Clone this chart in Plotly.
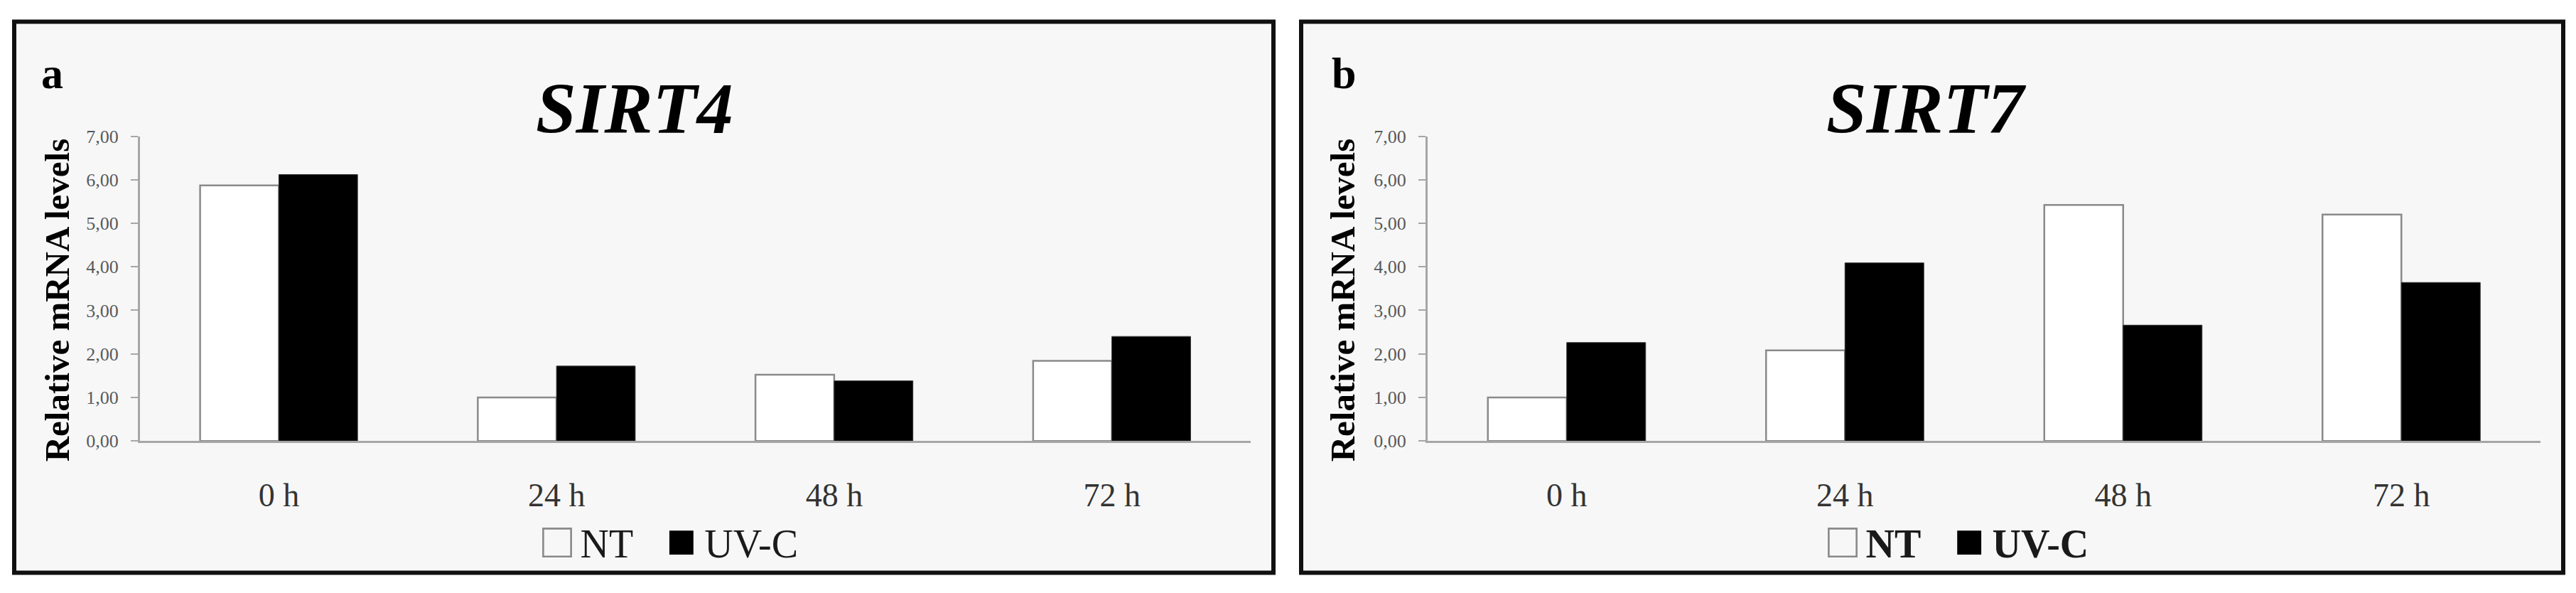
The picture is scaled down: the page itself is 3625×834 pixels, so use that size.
import plotly.graph_objects as go

W, H = 3625, 834

categories = ["0 h", "24 h", "48 h", "72 h"]
sirt4_nt = [5.87, 1.00, 1.52, 1.84]
sirt4_uvc = [6.12, 1.72, 1.38, 2.40]
sirt7_nt = [1.00, 2.08, 5.42, 5.20]
sirt7_uvc = [2.26, 4.09, 2.66, 3.64]
ytick_vals = [0, 1, 2, 3, 4, 5, 6, 7]
ytick_text = ["0,00", "1,00", "2,00", "3,00", "4,00", "5,00", "6,00", "7,00"]
series_names = ["NT", "UV-C"]
panel_titles = ["SIRT4", "SIRT7"]
panel_letters = ["a", "b"]
y_title = "Relative mRNA levels"

SERIF = "Liberation Serif, Times New Roman, serif"


def px(x):
    return x / W


def py(y):
    return 1 - y / H


fig = go.Figure()

panels = [
    dict(nt=sirt4_nt, uvc=sirt4_uvc, xa="x", ya="y"),
    dict(nt=sirt7_nt, uvc=sirt7_uvc, xa="x2", ya="y2"),
]
for p in panels:
    fig.add_trace(go.Bar(
        x=categories, y=p["nt"], name=series_names[0], xaxis=p["xa"], yaxis=p["ya"],
        marker=dict(color="white", line=dict(color="#8a8a8a", width=2.5)),
        showlegend=False,
    ))
    fig.add_trace(go.Bar(
        x=categories, y=p["uvc"], name=series_names[1], xaxis=p["xa"], yaxis=p["ya"],
        marker=dict(color="black", line=dict(color="#333333", width=1)),
        showlegend=False,
    ))

# panel frames
frames = [(20, 1792), (1831, 3607)]
for (x0, x1) in frames:
    fig.add_shape(type="rect", xref="paper", yref="paper",
                  x0=px(x0), x1=px(x1), y0=py(820), y1=py(17),
                  fillcolor="#f7f7f7", line=dict(color="#111111", width=6),
                  layer="below")

x_domains = [[px(197), px(1760)], [px(2009), px(3575)]]
y_domain = [py(628), py(184)]

xaxis_common = dict(
    type="category", showline=True, linecolor="#a6a6a6", linewidth=3,
    ticks="", showgrid=False, zeroline=False,
    tickfont=dict(family=SERIF, size=46, color="#333333"),
    ticklabelstandoff=34,
)
yaxis_common = dict(
    range=[0, 7], showline=True, linecolor="#a6a6a6", linewidth=3,
    ticks="outside", ticklen=10, tickwidth=2, tickcolor="#a6a6a6",
    tickvals=ytick_vals, ticktext=ytick_text,
    showgrid=False, zeroline=False,
    tickfont=dict(family=SERIF, size=26, color="#595959"),
    ticklabelstandoff=12,
)

fig.update_layout(
    width=W, height=H,
    margin=dict(l=0, r=0, t=0, b=0),
    paper_bgcolor="white",
    plot_bgcolor="rgba(0,0,0,0)",
    barmode="group", bargap=0.433, bargroupgap=0,
    xaxis=dict(domain=x_domains[0], anchor="y", **xaxis_common),
    yaxis=dict(domain=y_domain, anchor="x", **yaxis_common),
    xaxis2=dict(domain=x_domains[1], anchor="y2", **xaxis_common),
    yaxis2=dict(domain=y_domain, anchor="x2", **yaxis_common),
    showlegend=False,
)

# titles, letters, y titles, legends
title_x = [893, 2711]
letter_x = [56, 1872]
ytitle_x = [80, 1889]
legend_x = [943, 2755]
legend_bold = [False, True]
gap = "\u00a0\u00a0\u00a0\u200a"
for i in range(2):
    fig.add_annotation(
        x=px(title_x[i]), y=py(143), xref="paper", yref="paper",
        text=panel_titles[i], showarrow=False, xanchor="center", yanchor="middle",
        font=dict(family=SERIF, size=102, color="black", weight="bold", style="italic"),
    )
    fig.add_annotation(
        x=px(letter_x[i]), y=py(92), xref="paper", yref="paper",
        text=panel_letters[i], showarrow=False, xanchor="left", yanchor="middle",
        font=dict(family=SERIF, size=62, color="black", weight="bold"),
    )
    fig.add_annotation(
        x=px(ytitle_x[i]), y=py(423), xref="paper", yref="paper",
        text=y_title, textangle=-90, showarrow=False, xanchor="center", yanchor="middle",
        font=dict(family=SERIF, size=49, color="black", weight="bold"),
    )
    fig.add_annotation(
        x=px(legend_x[i]), y=py(773), xref="paper", yref="paper",
        text=('<span style="color:#8a8a8a;font-size:70px">\u25A1</span>\u2009' + series_names[0]
              + gap + '<span style="color:black;font-size:70px">\u25A0</span>\u2009'
              + series_names[1]),
        showarrow=False, xanchor="center", yanchor="middle",
        font=dict(family=SERIF, size=56, color="#1a1a1a",
                  weight="bold" if legend_bold[i] else "normal"),
    )

fig.write_html("out.html", config={"displayModeBar": False},
               post_script="document.body.style.margin='0px';")
